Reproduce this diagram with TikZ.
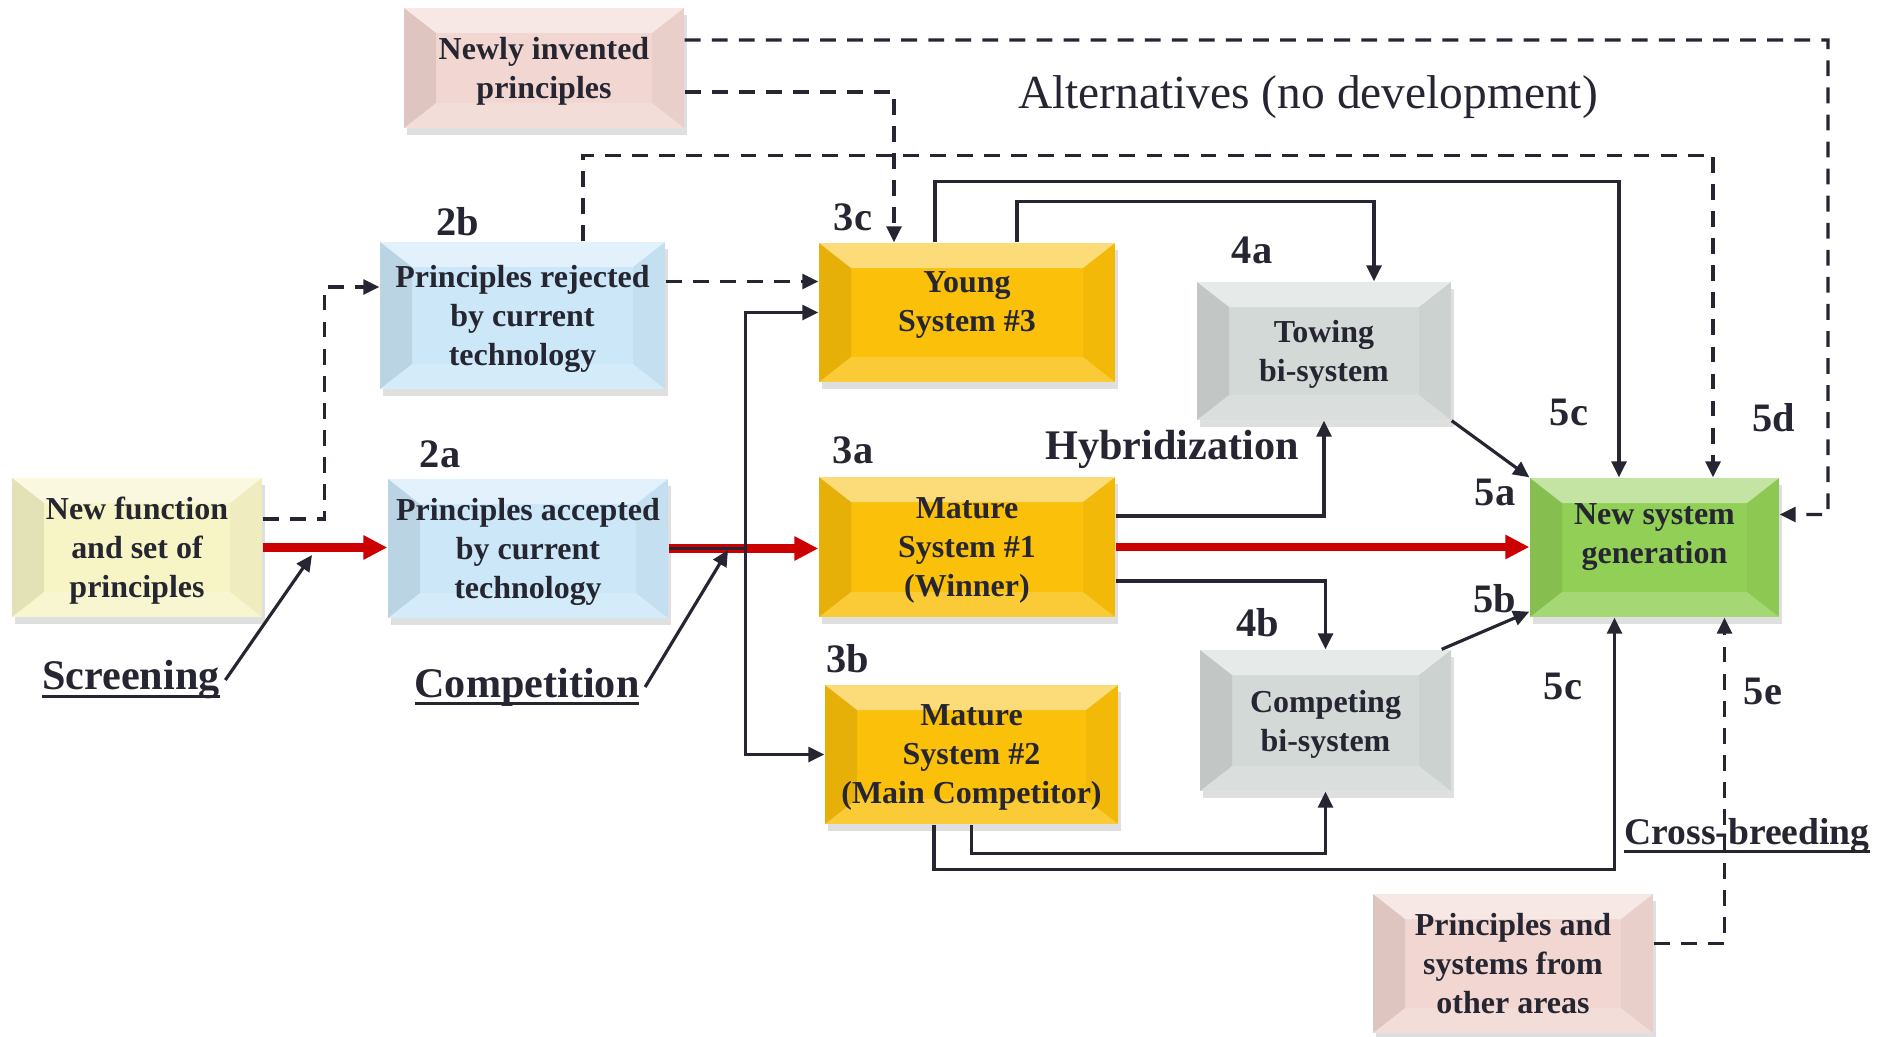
\documentclass[tikz,border=0pt]{standalone}
\usepackage{fontspec}
\setmainfont{Liberation Serif}
\usetikzlibrary{arrows.meta,shadows}

\definecolor{ink}{RGB}{38,38,50}
\definecolor{mainred}{RGB}{204,0,0}
\definecolor{pinkfill}{RGB}{241,214,209}
\definecolor{bluefill}{RGB}{203,231,248}
\definecolor{creamfill}{RGB}{247,245,198}
\definecolor{goldfill}{RGB}{250,192,10}
\definecolor{greyfill}{RGB}{211,217,214}
\definecolor{greenfill}{RGB}{146,207,86}

\newcommand{\ulword}[1]{\setbox0\hbox{#1}\rlap{\rule[-2.3pt]{\wd0}{0.9pt}}\box0}

\tikzset{
  bevelbox/.style={rectangle, fill=#1, inner sep=0pt, align=center, text=ink,
    font=\fontsize{9.1}{11.1}\selectfont\bfseries, text depth=-0.85mm,
    drop shadow={shadow xshift=0.3mm, shadow yshift=-0.7mm, opacity=0.25},
    path picture={
      % light top facet
      \fill[white, opacity=0.45]
        (path picture bounding box.north west) -- (path picture bounding box.north east)
        -- ([shift={(-3.2mm,-2.5mm)}]path picture bounding box.north east)
        -- ([shift={(3.2mm,-2.5mm)}]path picture bounding box.north west) -- cycle;
      % dark left facet
      \fill[black, opacity=0.08]
        (path picture bounding box.north west) -- (path picture bounding box.south west)
        -- ([shift={(3.2mm,2.5mm)}]path picture bounding box.south west)
        -- ([shift={(3.2mm,-2.5mm)}]path picture bounding box.north west) -- cycle;
      % right facet
      \fill[black, opacity=0.03]
        (path picture bounding box.north east) -- (path picture bounding box.south east)
        -- ([shift={(-3.2mm,2.5mm)}]path picture bounding box.south east)
        -- ([shift={(-3.2mm,-2.5mm)}]path picture bounding box.north east) -- cycle;
      % bottom facet
      \fill[white, opacity=0.18]
        (path picture bounding box.south west) -- (path picture bounding box.south east)
        -- ([shift={(-3.2mm,2.5mm)}]path picture bounding box.south east)
        -- ([shift={(3.2mm,2.5mm)}]path picture bounding box.south west) -- cycle;
    }},
  boxtext/.style={align=center, text=ink, inner sep=0pt, font=\fontsize{9.1}{11.1}\selectfont\bfseries},
  tag/.style={text=ink, inner sep=0.5mm, font=\fontsize{11.5}{13}\selectfont\bfseries},
  note/.style={text=ink, inner sep=0.5mm, font=\fontsize{12}{14}\selectfont\bfseries},
  flow/.style={draw=ink, line width=0.9pt, -{Triangle[length=1.6mm,width=1.5mm]}},
  alt/.style={flow, dash pattern=on 4.5pt off 3.2pt},
  mainflow/.style={draw=mainred, line width=2.3pt, -{Triangle[length=2.4mm,width=2.3mm]}}
}

\begin{document}
\begin{tikzpicture}

  \useasboundingbox (0,0) rectangle (18.79,-10.36);

  % Boxes
  \node[bevelbox=pinkfill, minimum width=2.80cm, minimum height=1.20cm] (invented) at (5.44,-0.68) {Newly invented\\principles};
  \node[bevelbox=bluefill, minimum width=2.85cm, minimum height=1.47cm] (rejected) at (5.225,-3.155) {Principles rejected\\by current\\technology};
  \node[bevelbox=bluefill, minimum width=2.80cm, minimum height=1.39cm] (accepted) at (5.28,-5.485) {Principles accepted\\by current\\technology};
  \node[bevelbox=creamfill, minimum width=2.50cm, minimum height=1.39cm] (newfunc) at (1.37,-5.475) {New function\\and set of\\principles};
  \node[bevelbox=goldfill, minimum width=2.96cm, minimum height=1.39cm] (young) at (9.67,-3.125) {};
  \node[boxtext] (young-text) at ([yshift=0.8mm]young.center) {Young\\System \#3};
  \node[bevelbox=goldfill, minimum width=2.96cm, minimum height=1.40cm] (mature1) at (9.67,-5.47) {Mature\\System \#1\\(Winner)};
  \node[bevelbox=goldfill, minimum width=2.93cm, minimum height=1.39cm] (mature2) at (9.715,-7.545) {Mature\\System \#2\\(Main Competitor)};
  \node[bevelbox=greyfill, minimum width=2.54cm, minimum height=1.38cm] (towing) at (13.24,-3.51) {Towing\\bi-system};
  \node[bevelbox=greyfill, minimum width=2.51cm, minimum height=1.41cm] (competing) at (13.255,-7.205) {Competing\\bi-system};
  \node[bevelbox=greenfill, minimum width=2.49cm, minimum height=1.39cm] (nsg) at (16.545,-5.475) {};
  \node[boxtext] (nsg-text) at ([yshift=1.0mm]nsg.center) {New system\\generation};
  \node[bevelbox=pinkfill, minimum width=2.80cm, minimum height=1.39cm] (other) at (15.13,-9.635) {Principles and\\systems from\\other areas};

  % Tags
  \node[tag] (t2b) at (4.58,-2.22) {2b};
  \node[tag] (t2a) at (4.40,-4.54) {2a};
  \node[tag] (t3c) at (8.53,-2.17) {3c};
  \node[tag] (t3a) at (8.53,-4.50) {3a};
  \node[tag] (t3b) at (8.48,-6.59) {3b};
  \node[tag] (t4a) at (12.52,-2.50) {4a};
  \node[tag] (t4b) at (12.58,-6.23) {4b};
  \node[tag] (t5c-up) at (15.69,-4.12) {5c};
  \node[tag] (t5d) at (17.74,-4.18) {5d};
  \node[tag] (t5a) at (14.95,-4.92) {5a};
  \node[tag] (t5b) at (14.95,-5.99) {5b};
  \node[tag] (t5c-down) at (15.63,-6.86) {5c};
  \node[tag] (t5e) at (17.63,-6.91) {5e};

  % Notes
  \node[text=ink, font=\fontsize{13.5}{15}\selectfont] (alternatives) at (13.08,-0.97) {Alternatives (no development)};
  \node[note] (hybrid) at (11.72,-4.49) {Hybridization};
  \node[note] (screen) at (1.31,-6.80) {\ulword{Screening}};
  \node[note] (compete) at (5.27,-6.87) {\ulword{Competition}};
  \node[note, font=\fontsize{10.7}{12}\selectfont\bfseries] (cross) at (17.47,-8.36) {\ulword{Cross-breeding}};

  % Main line
  \draw[mainflow] (newfunc.east) -- (newfunc.east -| accepted.west);
  \draw[mainflow] (accepted.east) -- (accepted.east -| mature1.west);
  \draw[mainflow] (mature1.east) -- (mature1.east -| nsg.west);

  % Competition split
  \coordinate (split) at ([xshift=7.7mm]accepted.east);
  \draw[flow, -] (accepted.east) -- (split);
  \draw[flow] (split) |- (young.west);
  \draw[flow] (split) |- (mature2.west);

  % Hybridization
  \draw[flow] ([yshift=3.1mm]mature1.east) -| (towing.south);
  \draw[flow] ([yshift=-3.4mm]mature1.east) -| (competing.north);
  \draw[flow] ([xshift=5mm]young.north) -- ++(0,0.41) -| ([xshift=5mm]towing.north);
  \draw[flow] (mature2.south) -- ++(0,-0.29) -| (competing.south);

  % Into the new generation
  \draw[flow] ([xshift=-3.2mm]young.north) -- ++(0,0.61) -| ([xshift=-3.55mm]nsg.north);
  \draw[flow] ([xshift=-3.75mm]mature2.south) -- ++(0,-0.45) -| ([xshift=-4mm]nsg.south);
  \draw[flow] (towing.south east) -- (nsg.north west);
  \draw[flow] ([xshift=-1mm]competing.north east) -- ([yshift=0.6mm]nsg.south west);

  % Alternatives (dashed)
  \coordinate (alt-corner) at (18.28,-0.40);
  \draw[alt] ([yshift=2.8mm]invented.east) -- (alt-corner) |- ([yshift=3.3mm]nsg.east);
  \draw[alt] ([yshift=-2.4mm]invented.east) -| ([xshift=-7.3mm]young.north);
  \draw[alt] ([xshift=6.05mm]rejected.north) -- ++(0,0.86) -| ([xshift=5.85mm]nsg.north);
  \coordinate (rej-out) at ([yshift=3.4mm]rejected.east);
  \draw[alt] (rej-out) -- (rej-out -| young.west);
  \draw[alt] ([yshift=2.85mm]newfunc.east) -- ++(0.62,0) |- ([yshift=2.85mm]rejected.west);
  \draw[alt] ([yshift=2mm]other.east) -| ([xshift=7mm]nsg.south);

  % Pointers
  \coordinate (screen-tip) at (3.12,-5.55);
  \coordinate (compete-tip) at (7.28,-5.50);
  \draw[flow] (screen.east) -- (screen-tip);
  \draw[flow] (compete.east) -- (compete-tip);

\end{tikzpicture}
\end{document}
